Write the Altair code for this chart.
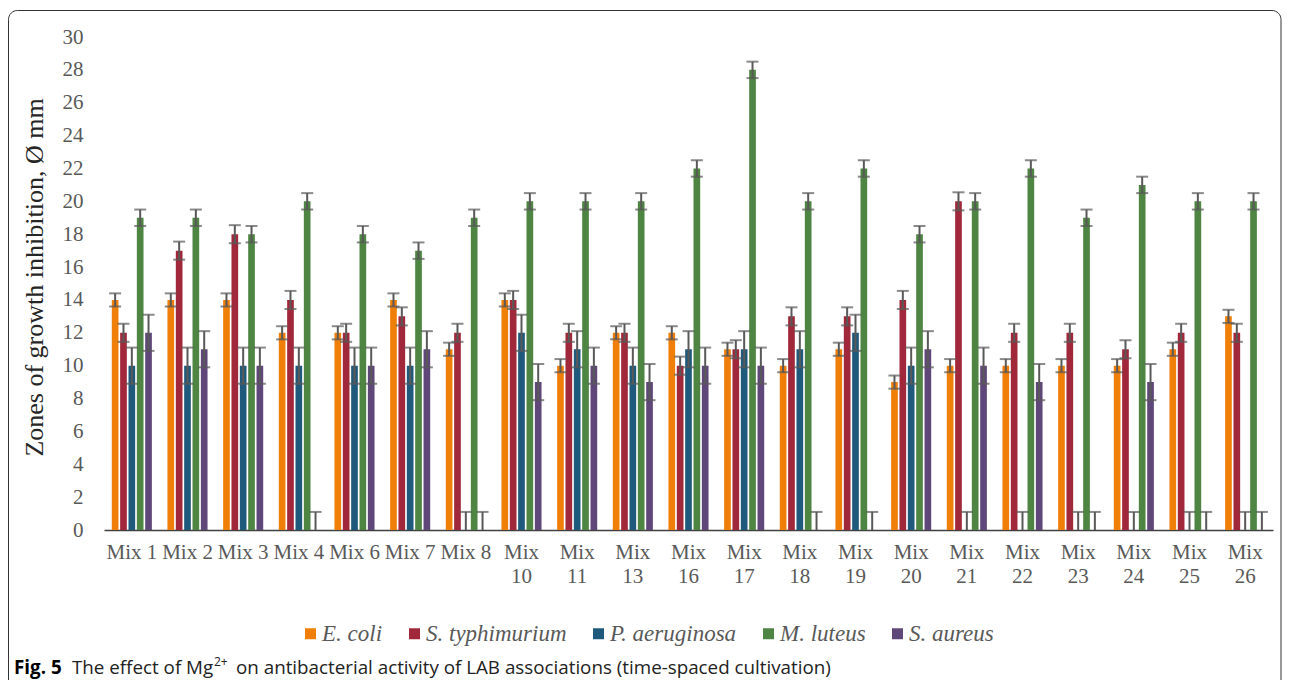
import altair as alt
import pandas as pd

mixes = ["Mix 1", "Mix 2", "Mix 3", "Mix 4", "Mix 6", "Mix 7", "Mix 8", "Mix 10", "Mix 11",
         "Mix 13", "Mix 16", "Mix 17", "Mix 18", "Mix 19", "Mix 20", "Mix 21", "Mix 22",
         "Mix 23", "Mix 24", "Mix 25", "Mix 26"]
series = ["E. coli", "S. typhimurium", "P. aeruginosa", "M. luteus", "S. aureus"]

e_coli = [14, 14, 14, 12, 12, 14, 11, 14, 10, 12, 12, 11, 10, 11, 9, 10, 10, 10, 10, 11, 13]
s_typhimurium = [12, 17, 18, 14, 12, 13, 12, 14, 12, 12, 10, 11, 13, 13, 14, 20, 12, 12, 11, 12, 12]
p_aeruginosa = [10, 10, 10, 10, 10, 10, 0, 12, 11, 10, 11, 11, 11, 12, 10, 0, 0, 0, 0, 0, 0]
m_luteus = [19, 19, 18, 20, 18, 17, 19, 20, 20, 20, 22, 28, 20, 22, 18, 20, 22, 19, 21, 20, 20]
s_aureus = [12, 11, 10, 0, 10, 11, 0, 9, 10, 9, 10, 10, 0, 0, 11, 10, 9, 0, 9, 0, 0]
errors = [0.4, 0.55, 1.1, 0.5, 1.1]

colors = ["#F07F09", "#A0283A", "#1F5A7C", "#4E8542", "#5F4879"]
y_ticks = list(range(0, 31, 2))
y_title = "Zones of growth inhibition, Ø mm"
caption_bold = ["Fig. 5"]
caption_part1 = ["The effect of Mg"]
caption_sup = ["2+"]
caption_part2 = ["on antibacterial activity of LAB associations (time-spaced cultivation)"]

rows = []
for s, vals, err in zip(series, [e_coli, s_typhimurium, p_aeruginosa, m_luteus, s_aureus], errors):
    for m, v in zip(mixes, vals):
        rows.append({"mix": m, "series": s, "value": v, "lo": max(v - err, 0), "hi": v + err})
df = pd.DataFrame(rows)

serif = "Liberation Serif"
sans = "Open Sans"
grey = "#595959"

x_axis = alt.Axis(title=None, labelAngle=0, labelFont=serif, labelFontSize=21,
                  labelColor=grey, labelPadding=11, ticks=False, tickSize=0,
                  domainColor="#404040", domainWidth=1.5, labelOverlap=False,
                  labelLineHeight=24, labelLimit=0,
                  labelExpr="length(datum.label) > 5 ? split(datum.label, ' ') : datum.label")
y_axis = alt.Axis(values=y_ticks, domain=False, ticks=False, tickSize=0, grid=False,
                  labelOverlap=False, labelFont=serif, labelFontSize=21, labelColor=grey,
                  labelPadding=21,
                  title=y_title, titleFont=serif, titleFontSize=26, titleFontWeight="normal",
                  titleColor="#262626", titleX=-70, titleY=240, titleBaseline="middle")

x_scale = alt.Scale(paddingInner=0.25, paddingOuter=0.125)
xo_scale = alt.Scale(paddingInner=0.2, paddingOuter=0.1)
y_scale = alt.Scale(domain=[0, 30], nice=False)

x_enc = alt.X("mix:N", sort=mixes, scale=x_scale, axis=x_axis)
xo_enc = alt.XOffset("series:N", sort=series, scale=xo_scale)

base = alt.Chart(df)

bars = base.mark_bar().encode(
    x=x_enc,
    xOffset=xo_enc,
    y=alt.Y("value:Q", scale=y_scale, axis=y_axis),
    color=alt.Color("series:N", sort=series,
                    scale=alt.Scale(domain=series, range=colors),
                    legend=alt.Legend(title=None, orient="none", legendX=195, legendY=585,
                                      direction="horizontal", columns=5, symbolType="square",
                                      symbolSize=121, symbolStrokeWidth=0, labelFont=serif,
                                      labelFontStyle="italic", labelFontSize=23, labelColor=grey,
                                      labelOffset=0, columnPadding=20, padding=0)),
)

rules = base.mark_rule(color=grey, strokeWidth=2).encode(
    x=x_enc, xOffset=xo_enc,
    y=alt.Y("lo:Q", scale=y_scale, axis=y_axis), y2="hi:Q")

caps_hi = base.mark_tick(color=grey, size=12, thickness=2).encode(
    x=x_enc, xOffset=xo_enc,
    y=alt.Y("hi:Q", scale=y_scale, axis=y_axis))

caps_lo = base.transform_filter("datum.value > 0").mark_tick(color=grey, size=12, thickness=2).encode(
    x=x_enc, xOffset=xo_enc,
    y=alt.Y("lo:Q", scale=y_scale, axis=y_axis))

frame = alt.Chart(pd.DataFrame({"k": [0]})).mark_rect(
    fillOpacity=0, stroke="#333333", strokeWidth=1, cornerRadius=9).encode(
    x=alt.value(-95.5), x2=alt.value(1177), y=alt.value(-26.5), y2=alt.value(700))


def caption(texts, xpos, ypos, size, weight="normal", color="#222222"):
    return alt.Chart(pd.DataFrame({"t": texts})).mark_text(
        align="left", baseline="middle", font=sans, fontSize=size, fontWeight=weight,
        color=color).encode(x=alt.value(xpos), y=alt.value(ypos), text="t:N")


cap_fig = caption(caption_bold, -90, 631, 18.8, weight="bold", color="#000000")
cap_a = caption(caption_part1, -32, 631, 18.8)
cap_sup = caption(caption_sup, 110, 625, 12)
cap_b = caption(caption_part2, 132, 631, 18.8)

chart = alt.layer(frame, bars, rules, caps_hi, caps_lo, cap_fig, cap_a, cap_sup, cap_b).properties(
    width=1169, height=493,
    padding={"left": 96, "top": 29, "right": 9, "bottom": 150},
    autosize=alt.AutoSizeParams(type="none"),
    background="white",
).configure_view(strokeWidth=0).configure_axisY(labelOverlap=False)

chart.save("out.html", embed_options={"renderer": "svg", "actions": False})
